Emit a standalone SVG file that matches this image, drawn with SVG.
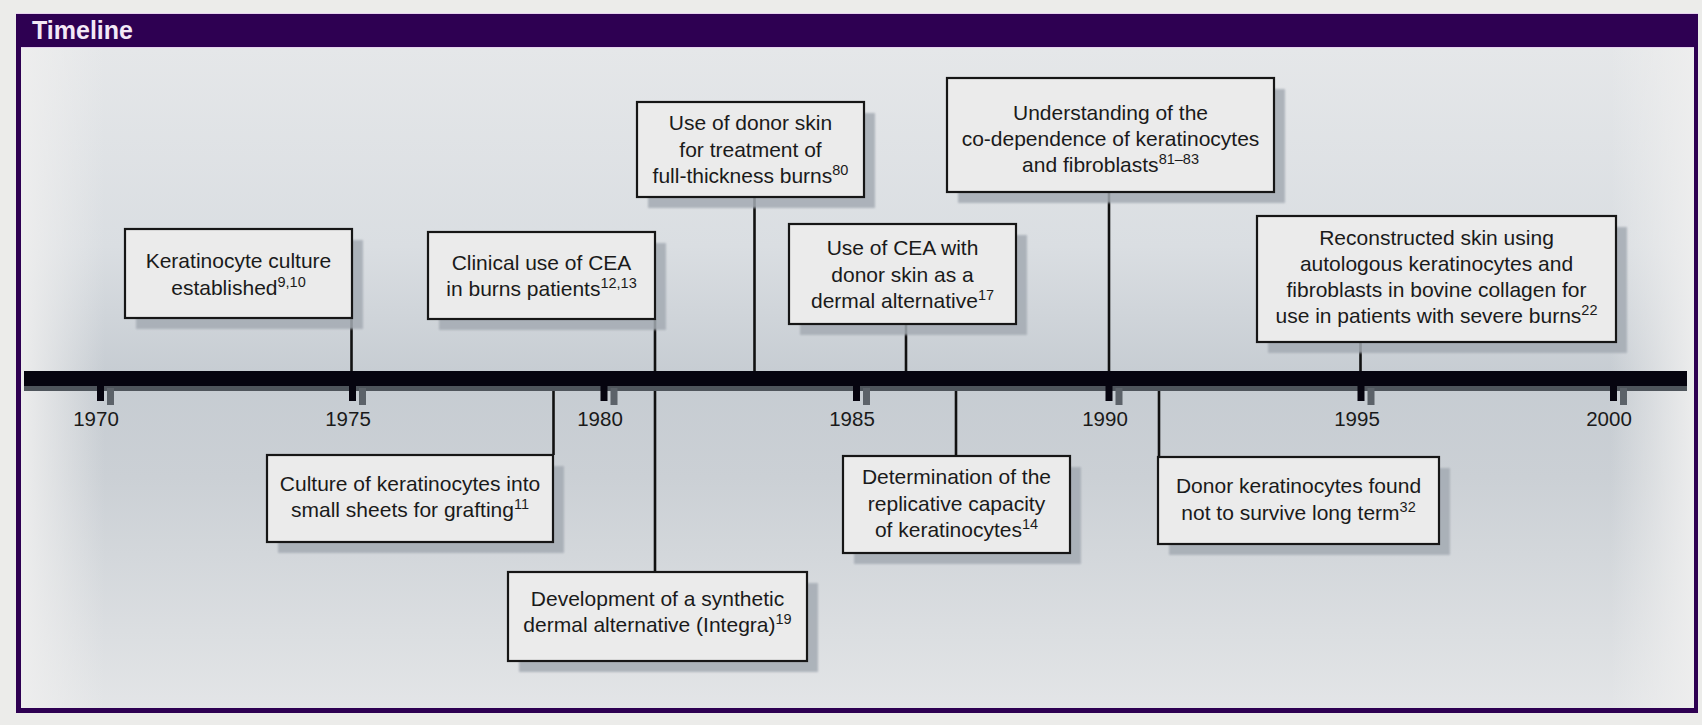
<svg xmlns="http://www.w3.org/2000/svg" width="1702" height="725" viewBox="0 0 1702 725">
<defs>
<linearGradient id="panelV" x1="0" y1="48" x2="0" y2="708" gradientUnits="userSpaceOnUse">
<stop offset="0" stop-color="#e5e7e9"/>
<stop offset="0.3" stop-color="#dadee2"/>
<stop offset="0.5" stop-color="#c6ccd2"/>
<stop offset="0.65" stop-color="#cbd0d5"/>
<stop offset="1" stop-color="#e3e5e7"/>
</linearGradient>
<linearGradient id="panelH" x1="21" y1="0" x2="1694" y2="0" gradientUnits="userSpaceOnUse">
<stop offset="0" stop-color="#eeeeee" stop-opacity="0.95"/>
<stop offset="0.05" stop-color="#eeeeee" stop-opacity="0"/>
<stop offset="0.95" stop-color="#eeeeee" stop-opacity="0"/>
<stop offset="1" stop-color="#eeeeee" stop-opacity="0.95"/>
</linearGradient>
<filter id="soft" x="-5%" y="-5%" width="110%" height="110%">
<feGaussianBlur stdDeviation="1.2"/>
</filter>
<style>
.box{fill:#ebebeb;stroke:#161616;stroke-width:2.2}
.shadow{fill:#a4abb3;opacity:0.85;filter:url(#soft)}
.lbl{font-family:"Liberation Sans",Arial,sans-serif;font-size:21px;fill:#1a1a1a;text-anchor:middle}
.sup{font-size:14.5px}
.year{font-family:"Liberation Sans",Arial,sans-serif;font-size:20.5px;fill:#1a1a1a;text-anchor:middle}
.conn{stroke:#111111;stroke-width:2.6;fill:none}
.tick{fill:#06040f}
.tickS{fill:#5c6269}
</style>
</defs>

<rect x="0" y="0" width="1702" height="725" fill="#ececea"/>
<g id="frame">
<rect x="16" y="13" width="1682" height="700" fill="#2e0052"/>
<rect x="21" y="48" width="1673" height="660" fill="url(#panelV)"/>
<rect x="21" y="48" width="1673" height="660" fill="url(#panelH)"/>
<line x1="16" y1="13.5" x2="1698" y2="13.5" stroke="#e6d2ee" stroke-width="1"/>
<line x1="21" y1="47.5" x2="1694" y2="47.5" stroke="#e6d2ee" stroke-width="1"/>
<text x="32" y="39" font-family="'Liberation Sans',Arial,sans-serif" font-size="25" font-weight="bold" fill="#f3e8f6">Timeline</text>
</g>

<g id="connectors">
<line class="conn" x1="351.5" y1="318" x2="351.5" y2="372"/>
<line class="conn" x1="553.5" y1="384" x2="553.5" y2="455"/>
<line class="conn" x1="655" y1="319" x2="655" y2="572"/>
<line class="conn" x1="754.5" y1="197" x2="754.5" y2="372"/>
<line class="conn" x1="906" y1="324" x2="906" y2="372"/>
<line class="conn" x1="956" y1="384" x2="956" y2="456"/>
<line class="conn" x1="1109" y1="192" x2="1109" y2="372"/>
<line class="conn" x1="1159" y1="384" x2="1159" y2="487"/>
<line class="conn" x1="1360.5" y1="342" x2="1360.5" y2="372"/>
</g>

<g id="axis">
<rect x="24" y="384" width="1663" height="7" fill="#4f555c"/>
<rect x="24" y="371" width="1663" height="15" fill="#06040f"/>
<g>
<rect class="tickS" x="107" y="388" width="7" height="17"/><rect class="tick" x="97" y="385" width="7" height="16"/>
<rect class="tickS" x="359" y="388" width="7" height="17"/><rect class="tick" x="349" y="385" width="7" height="16"/>
<rect class="tickS" x="610.5" y="388" width="7" height="17"/><rect class="tick" x="600.5" y="385" width="7" height="16"/>
<rect class="tickS" x="863" y="388" width="7" height="17"/><rect class="tick" x="853" y="385" width="7" height="16"/>
<rect class="tickS" x="1115.5" y="388" width="7" height="17"/><rect class="tick" x="1105.5" y="385" width="7" height="16"/>
<rect class="tickS" x="1367.5" y="388" width="7" height="17"/><rect class="tick" x="1357.5" y="385" width="7" height="16"/>
<rect class="tickS" x="1620" y="388" width="7" height="17"/><rect class="tick" x="1610" y="385" width="7" height="16"/>
</g>
<text class="year" x="96" y="426">1970</text>
<text class="year" x="348" y="426">1975</text>
<text class="year" x="600" y="426">1980</text>
<text class="year" x="852" y="426">1985</text>
<text class="year" x="1105" y="426">1990</text>
<text class="year" x="1357" y="426">1995</text>
<text class="year" x="1609" y="426">2000</text>
</g>

<g id="n1975">
<rect class="shadow" x="136" y="240" width="227" height="89"/>
<rect class="box" x="125" y="229" width="227" height="89"/>
<text class="lbl"><tspan x="238.5" y="268">Keratinocyte culture</tspan><tspan x="238.5" y="295">established<tspan class="sup" dy="-8">9,10</tspan></tspan></text>
</g>

<g id="n1981a">
<rect class="shadow" x="439" y="243" width="227" height="87"/>
<rect class="box" x="428" y="232" width="227" height="87"/>
<text class="lbl"><tspan x="541.5" y="270">Clinical use of CEA</tspan><tspan x="541.5" y="296">in burns patients<tspan class="sup" dy="-8">12,13</tspan></tspan></text>
</g>

<g id="n1983">
<rect class="shadow" x="648" y="113" width="227" height="95"/>
<rect class="box" x="637" y="102" width="227" height="95"/>
<text class="lbl"><tspan x="750.5" y="130">Use of donor skin</tspan><tspan x="750.5" y="157">for treatment of</tspan><tspan x="750.5" y="183">full-thickness burns<tspan class="sup" dy="-8">80</tspan></tspan></text>
</g>

<g id="n1986">
<rect class="shadow" x="800" y="235" width="227" height="100"/>
<rect class="box" x="789" y="224" width="227" height="100"/>
<text class="lbl"><tspan x="902.5" y="255">Use of CEA with</tspan><tspan x="902.5" y="282">donor skin as a</tspan><tspan x="902.5" y="308">dermal alternative<tspan class="sup" dy="-8">17</tspan></tspan></text>
</g>

<g id="n1990">
<rect class="shadow" x="958" y="89" width="327" height="114"/>
<rect class="box" x="947" y="78" width="327" height="114"/>
<text class="lbl"><tspan x="1110.5" y="120">Understanding of the</tspan><tspan x="1110.5" y="146">co-dependence of keratinocytes</tspan><tspan x="1110.5" y="172">and fibroblasts<tspan class="sup" dy="-8">81–83</tspan></tspan></text>
</g>

<g id="n1995">
<rect class="shadow" x="1268" y="227" width="359" height="126"/>
<rect class="box" x="1257" y="216" width="359" height="126"/>
<text class="lbl"><tspan x="1436.5" y="245">Reconstructed skin using</tspan><tspan x="1436.5" y="271">autologous keratinocytes and</tspan><tspan x="1436.5" y="297">fibroblasts in bovine collagen for</tspan><tspan x="1436.5" y="323">use in patients with severe burns<tspan class="sup" dy="-8">22</tspan></tspan></text>
</g>

<g id="n1979">
<rect class="shadow" x="278" y="466" width="286" height="87"/>
<rect class="box" x="267" y="455" width="286" height="87"/>
<text class="lbl"><tspan x="410" y="491">Culture of keratinocytes into</tspan><tspan x="410" y="517">small sheets for grafting<tspan class="sup" dy="-8">11</tspan></tspan></text>
</g>

<g id="n1981b">
<rect class="shadow" x="519" y="583" width="299" height="89"/>
<rect class="box" x="508" y="572" width="299" height="89"/>
<text class="lbl"><tspan x="657.5" y="606">Development of a synthetic</tspan><tspan x="657.5" y="632">dermal alternative (Integra)<tspan class="sup" dy="-8">19</tspan></tspan></text>
</g>

<g id="n1987">
<rect class="shadow" x="854" y="467" width="227" height="97"/>
<rect class="box" x="843" y="456" width="227" height="97"/>
<text class="lbl"><tspan x="956.5" y="484">Determination of the</tspan><tspan x="956.5" y="511">replicative capacity</tspan><tspan x="956.5" y="537">of keratinocytes<tspan class="sup" dy="-8">14</tspan></tspan></text>
</g>

<g id="n1991">
<rect class="shadow" x="1169" y="468" width="281" height="87"/>
<rect class="box" x="1158" y="457" width="281" height="87"/>
<text class="lbl"><tspan x="1298.5" y="493">Donor keratinocytes found</tspan><tspan x="1298.5" y="520">not to survive long term<tspan class="sup" dy="-8">32</tspan></tspan></text>
</g>
</svg>
